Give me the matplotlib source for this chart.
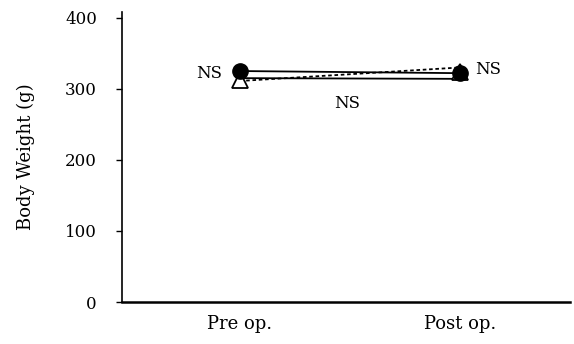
import matplotlib.pyplot as plt

grupos = ['Pre op.', 'Post op.']
peso_circulo = [325, 322]
peso_triangulo = [312, 323]
peso_tracejado = [311, 330]
peso_linha2 = [315, 314]
ns_rotulos = ['NS', 'NS', 'NS']

def plotar_grafico():
    plt.rcParams['font.family'] = ['DejaVu Serif']
    fig = plt.figure(figsize=(5.74, 3.44), dpi=100)
    ax = fig.add_axes([0.2125, 0.122, 0.78, 0.843])
    x = [0, 1]

    # linhas
    ax.plot(x, peso_circulo, color='black', lw=1.3, zorder=2)
    ax.plot(x, peso_linha2, color='black', lw=1.3, zorder=2)
    ax.plot(x, peso_tracejado, color='black', lw=1.3, linestyle=(0, (2, 1.5)), zorder=2)

    # marcadores
    ax.plot(x, peso_triangulo, linestyle='none', marker='^', markersize=11,
            markerfacecolor='white', markeredgecolor='black', markeredgewidth=1.3, zorder=3)
    ax.plot(x, peso_circulo, linestyle='none', marker='o', markersize=11,
            color='black', zorder=4)

    ax.text(-0.08, peso_circulo[0] - 3, ns_rotulos[0], ha='right', va='center', fontsize=12)
    ax.text(1.07, peso_circulo[1] + 5, ns_rotulos[1], ha='left', va='center', fontsize=12)
    ax.text(0.49, 280, ns_rotulos[2], ha='center', va='center', fontsize=12)

    ax.set_xlim(-0.536, 1.5)
    ax.set_ylim(0, 408)
    ax.set_xticks(x)
    ax.set_xticklabels(grupos, fontsize=13)
    ax.tick_params(axis='x', length=0, pad=9)
    ax.set_yticks([0, 100, 200, 300, 400])
    ax.tick_params(axis='y', labelsize=12, length=4, width=1, pad=14)
    ax.set_ylabel('Body Weight (g)', fontsize=13, labelpad=22)

    for s in ['top', 'right']:
        ax.spines[s].set_visible(False)
    ax.spines['left'].set_linewidth(1.2)
    ax.spines['bottom'].set_linewidth(1.8)

    fig.savefig('out.png', dpi=100)

if __name__ == "__main__":
    plotar_grafico()
